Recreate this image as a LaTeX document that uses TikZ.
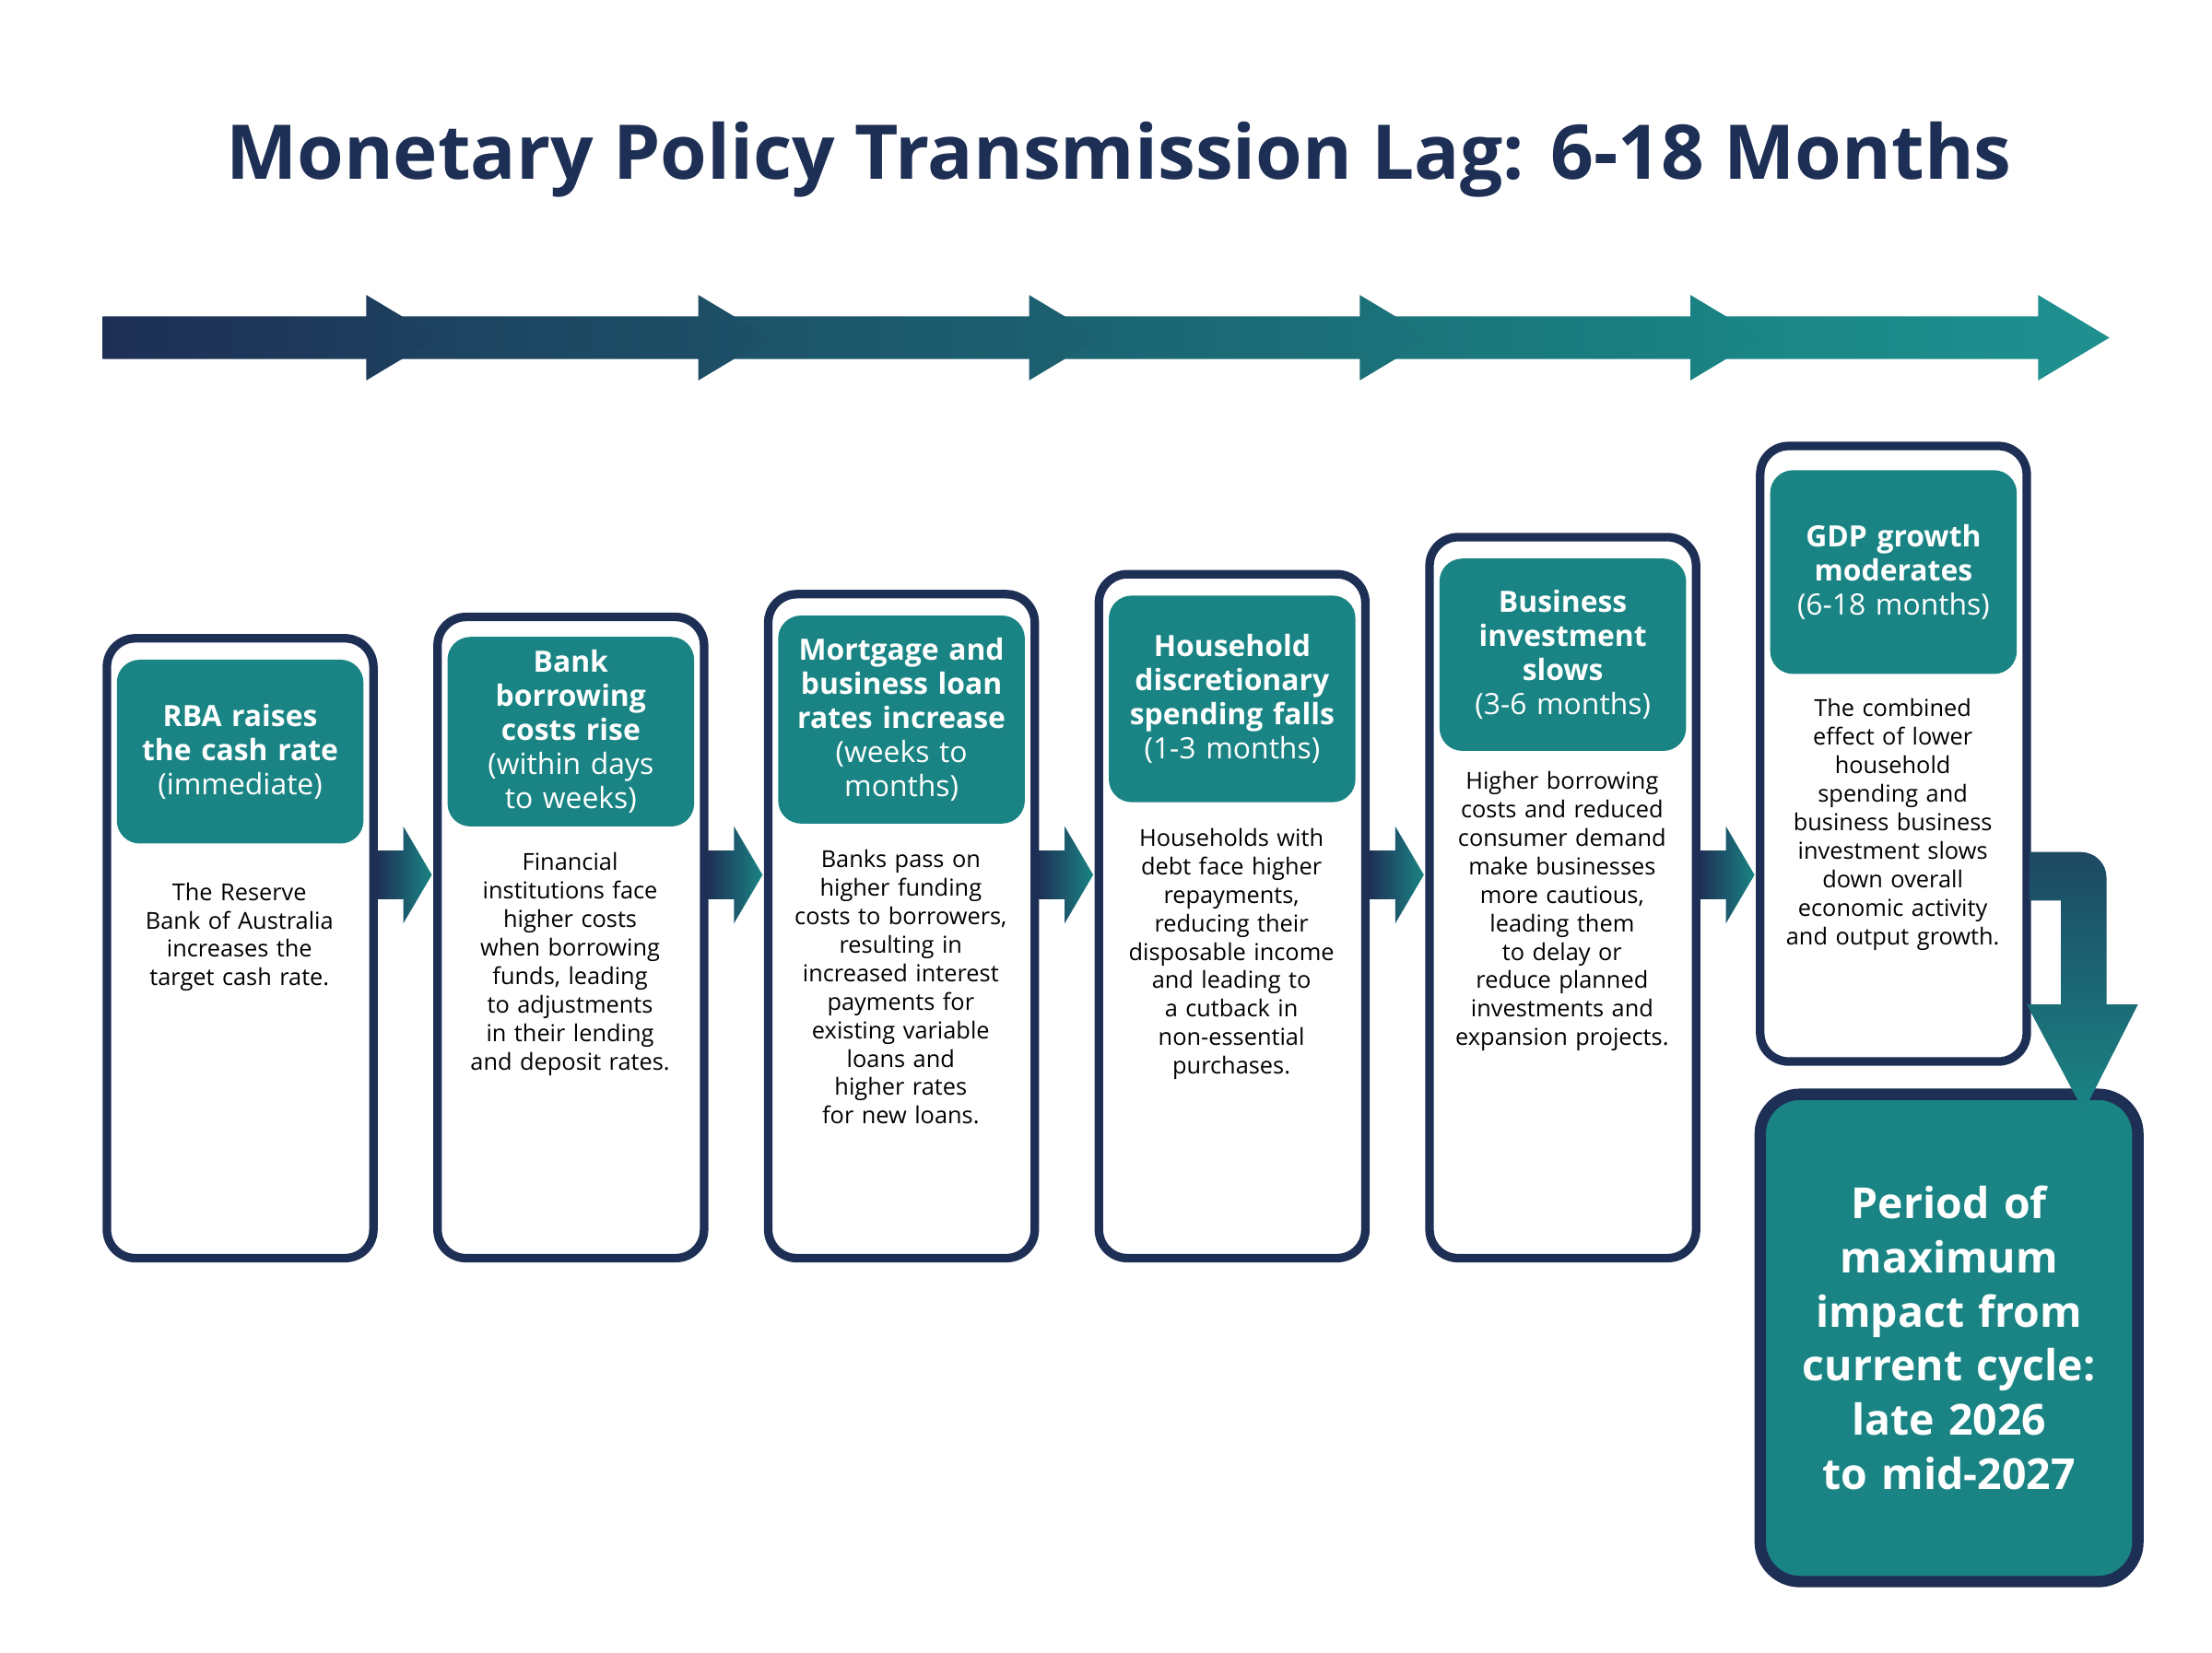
\documentclass[tikz,border=0pt]{standalone}
\usepackage{fontspec}
\setmainfont{Open Sans}
\usetikzlibrary{fit}
\definecolor{navy}{HTML}{1E2F55}
\definecolor{teal}{HTML}{1A8484}
\definecolor{tealL}{HTML}{1F9090}
\hyphenpenalty=10000
\exhyphenpenalty=10000
\tikzset{
 box/.style={draw=navy,line width=3pt,rounded corners=10pt,fill=white,inner sep=0pt},
 head/.style={fill=teal,rounded corners=8pt,inner sep=0pt},
 htxt/.style={text=white,align=center,text width=80pt,font=\fontsize{10.3}{12}\selectfont,inner sep=0pt},
 btxt/.style={text=black,align=center,text width=76pt,anchor=north,font=\fontsize{8.2}{10}\selectfont,inner sep=0pt},
}
\begin{document}
\begin{tikzpicture}[x=0.5pt,y=-0.5pt]
\useasboundingbox (0,0) rectangle (1552,1160);
\node[text=navy,font=\fontsize{26.5}{32}\selectfont\bfseries] (title) at (785,112) {Monetary Policy Transmission Lag: 6-18 Months};
\def\seg#1#2#3#4{\shade[left color=#3,right color=#4] (#1,222) -- (#2-50,222) -- (#2-50,207) -- (#2,237) -- (#2-50,267) -- (#2-50,252) -- (#1,252) -- cycle;}
\colorlet{c0}{navy}
\colorlet{c1}{navy!80!teal}\colorlet{c2}{navy!60!teal}\colorlet{c3}{navy!40!teal}\colorlet{c4}{navy!20!teal}\colorlet{c5}{teal}\colorlet{c6}{tealL}
\seg{1190}{1480}{c5}{c6}
\seg{958}{1236}{c4}{c5}
\seg{726}{1004}{c3}{c4}
\seg{494}{772}{c2}{c3}
\seg{262}{540}{c1}{c2}
\seg{72}{307}{c0}{c1}
\foreach \n/\xa/\ya/\yb/\ha/\hb/\xe in {1/75/448/883/463/592/262,2/307/433/883/447/580/494,3/539/417/883/432/578/726,4/771/403/883/418/563/958,5/1003/377/883/392/527/1190,6/1235/313/745/330/473/1422}{
 \node[box,fit={(\xa,\ya)(\xe,\yb)}] (b\n) {};
 \node[head,fit={(\xa+7,\ha)(\xe-7,\hb)}] (h\n) {};
}
\node[htxt] (ht1) at (h1) {\textbf{RBA raises the cash rate}\\(immediate)};
\node[htxt] (ht2) at (h2) {\textbf{Bank borrowing costs rise}\\(within days to weeks)};
\node[htxt] (ht3) at (h3) {\textbf{Mortgage and business loan rates increase}\\(weeks to months)};
\node[htxt] (ht4) at (h4) {\textbf{Household discretionary spending falls}\\(1-3 months)};
\node[htxt] (ht5) at (h5) {\textbf{Business\\investment\\slows}\\(3-6 months)};
\node[htxt] (ht6) at (h6) {\textbf{GDP growth moderates}\\(6-18 months)};
\node[btxt] (t1) at (168,619) {The Reserve Bank of Australia increases the target cash rate.};
\node[btxt] (t2) at (400,598) {Financial institutions face higher costs when borrowing funds, leading to adjustments in their lending and deposit rates.};
\node[btxt] (t3) at (632,596) {Banks pass on higher funding costs to borrowers, resulting in increased interest payments for existing variable loans and higher rates for new loans.};
\node[btxt] (t4) at (864,581) {Households with debt face higher repayments, reducing their disposable income and leading to a cutback in non-essential purchases.};
\node[btxt] (t5) at (1096,541) {Higher borrowing costs and reduced consumer demand make businesses more cautious, leading them to delay or reduce planned investments and expansion projects.};
\node[btxt] (t6) at (1328,490) {The combined effect of lower household spending and business business investment slows down overall economic activity and output growth.};
\foreach \a/\b in {262/303,494/535,726/767,958/999,1190/1231}{
 \shade[left color=navy,right color=teal] (\a+2,597) -- (\b-20,597) -- (\b-20,580) -- (\b,614) -- (\b-20,648) -- (\b-20,631) -- (\a+2,631) -- cycle;
}
\node[box,line width=4pt,fill=teal,rounded corners=14pt,fit={(1235,768)(1500,1110)}] (fin) {};
\node[text=white,align=center,font=\fontsize{15}{19}\selectfont\bfseries,text width=115pt] (fint) at (fin) {Period of maximum impact from current cycle: late 2026 to mid-2027};
\shade[top color=navy!70!teal,bottom color=teal] (1424,598) -- (1460,598) to[out=0,in=90] (1478,616) -- (1478,705) -- (1500,705) -- (1462,780) -- (1422,705) -- (1446,705) -- (1446,632) -- (1424,632) -- cycle;
\end{tikzpicture}
\end{document}
